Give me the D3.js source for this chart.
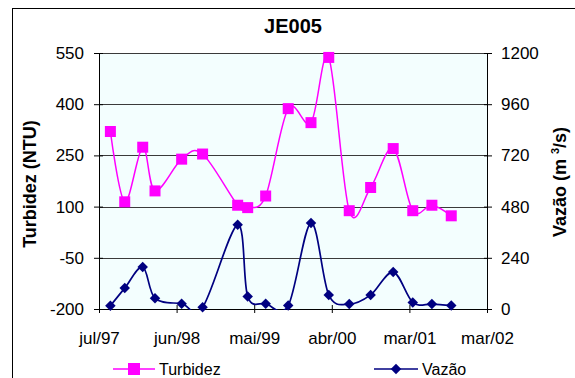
<!DOCTYPE html>
<html>
<head>
<meta charset="utf-8">
<script src="https://cdn.jsdelivr.net/npm/d3@7"></script>
<style>
  body { margin: 0; background: #fff; }
  text { font-family: "Liberation Sans", Arial, sans-serif; }
</style>
</head>
<body>
<div id="viz"></div>
<script>
// dimensions of the svg and of the plot area inside it
const width = 575
const height = 378
const margin = {left: 99, top: 53, right: 88, bottom: 69}
const g_width = width - margin.left - margin.right;
const g_height = height - margin.top - margin.bottom;

// sampling dates
const dates = ["1997-08-20", "1997-10-22", "1998-01-09", "1998-03-04", "1998-06-29", "1998-09-29",
               "1999-03-02", "1999-04-15", "1999-07-03", "1999-10-10", "2000-01-18", "2000-04-05",
               "2000-07-04", "2000-10-06", "2001-01-13", "2001-04-09", "2001-07-02", "2001-09-25"];

// turbidity (NTU), left axis
const turbidez = [320, 114, 274, 146, 239, 254, 104, 97, 131, 387, 346, 537, 88, 156, 270, 88, 104, 73];

// discharge (m3/s), right axis
const vazao = [15, 98, 197, 50, 25, 8, 395, 59, 25, 16, 403, 66, 23, 66, 173, 31, 23, 16];

// axis ticks
const xTickLabels = ["jul/97", "jun/98", "mai/99", "abr/00", "mar/01", "mar/02"];
const xDomain = ["1997-07-01", "2002-03-01"];
const yLeftTicks = [-200, -50, 100, 250, 400, 550];
const yRightTicks = [0, 240, 480, 720, 960, 1200];

const parse = d3.timeParse("%Y-%m-%d");

var svg = d3.select("#viz")
        .append("svg")
        .attr("width", width)
        .attr("height", height);

// chart border (runs off the right and bottom edges like the original)
svg.append("rect")
    .attr("x", 12.5)
    .attr("y", 8.5)
    .attr("width", 700)
    .attr("height", 500)
    .style("fill", "none")
    .style("stroke", "black");

var g = svg.append("g")
        .attr("transform", "translate(" + margin.left + "," + margin.top + ")");

// scales
const x = d3.scaleTime()
            .domain(xDomain.map(parse))
            .range([0, g_width]);

const yL = d3.scaleLinear()
            .domain([-200, 550])
            .range([g_height, 0]);

const yR = d3.scaleLinear()
            .domain([0, 1200])
            .range([g_height, 0]);

// plot area background
g.append("rect")
    .attr("width", g_width)
    .attr("height", g_height)
    .style("fill", "#f3fefe");

// horizontal gridlines
g.selectAll(".grid")
    .data(yLeftTicks.slice(1))
    .enter()
    .append("line")
    .attr("class", "grid")
    .attr("x1", 0)
    .attr("x2", g_width)
    .attr("y1", function(d) { return Math.round(yL(d)) + 0.5 })
    .attr("y2", function(d) { return Math.round(yL(d)) + 0.5 })
    .style("stroke", "#3a3a3a");

// x tick positions: equally spaced across the domain
const x0 = x.domain()[0].getTime(), x1 = x.domain()[1].getTime();
const xTicks = xTickLabels.map(function(d, i) { return new Date(x0 + (x1 - x0) * i / (xTickLabels.length - 1)) });

// axes
const xAxis = g.append("g")
    .attr("transform", "translate(0," + g_height + ")")
    .call(d3.axisBottom(x).tickValues(xTicks).tickSizeInner(4).tickSizeOuter(0).tickPadding(19)
        .tickFormat(function(d, i) { return xTickLabels[i] }));

const leftAxis = g.append("g")
    .call(d3.axisLeft(yL).tickValues(yLeftTicks).tickSizeInner(5).tickSizeOuter(0).tickPadding(10)
        .tickFormat(function(d) { return String(d) }));

const rightAxis = g.append("g")
    .attr("transform", "translate(" + g_width + ",0)")
    .call(d3.axisRight(yR).tickValues(yRightTicks).tickSizeInner(5).tickSizeOuter(0).tickPadding(9)
        .tickFormat(function(d) { return String(d) }));

// cross ticks going into the plot as well
xAxis.selectAll(".tick line").attr("y1", -4);
leftAxis.selectAll(".tick line").attr("x1", 4);
rightAxis.selectAll(".tick line").attr("x1", -3);

[xAxis, leftAxis, rightAxis].forEach(function(a) {
    a.selectAll("text").style("font-size", "17px").style("fill", "black");
    a.selectAll("line, path").style("stroke", "black");
});

// clip the smoothed lines to the plot area
g.append("clipPath")
    .attr("id", "clip")
    .append("rect")
    .attr("width", g_width)
    .attr("height", g_height + 1);

const lineL = d3.line()
    .x(function(d, i) { return x(parse(dates[i])) })
    .y(function(d) { return yL(d) })
    .curve(d3.curveCatmullRom.alpha(0));

const lineR = d3.line()
    .x(function(d, i) { return x(parse(dates[i])) })
    .y(function(d) { return yR(d) })
    .curve(d3.curveCatmullRom.alpha(0));

g.append("path")
    .datum(turbidez)
    .attr("clip-path", "url(#clip)")
    .attr("d", lineL)
    .style("fill", "none")
    .style("stroke", "#ff00ff")
    .style("stroke-width", 1.5);

g.append("path")
    .datum(vazao)
    .attr("clip-path", "url(#clip)")
    .attr("d", lineR)
    .style("fill", "none")
    .style("stroke", "#000080")
    .style("stroke-width", 1.7);

// markers
const sq = 11;
g.selectAll(".sq")
    .data(turbidez)
    .enter()
    .append("rect")
    .attr("class", "sq")
    .attr("x", function(d, i) { return x(parse(dates[i])) - sq / 2 })
    .attr("y", function(d) { return yL(d) - sq / 2 })
    .attr("width", sq)
    .attr("height", sq)
    .style("fill", "#ff00ff");

const diamond = d3.symbol().type(d3.symbolDiamond2).size(70);
g.selectAll(".dm")
    .data(vazao)
    .enter()
    .append("path")
    .attr("class", "dm")
    .attr("d", diamond)
    .attr("transform", function(d, i) { return "translate(" + x(parse(dates[i])) + "," + yR(d) + ")" })
    .style("fill", "#000080");

// title
svg.append("text")
    .attr("x", 293)
    .attr("y", 33)
    .attr("text-anchor", "middle")
    .style("font-size", "20px")
    .style("font-weight", "bold")
    .text("JE005");

// y labels
svg.append("text")
    .attr("transform", "translate(36," + 184 + ")rotate(-90)")
    .attr("text-anchor", "middle")
    .style("font-size", "18px")
    .style("font-weight", "bold")
    .text("Turbidez (NTU)");

const rl = svg.append("text")
    .attr("transform", "translate(566," + 182 + ")rotate(-90)")
    .attr("text-anchor", "middle")
    .style("font-size", "18px")
    .style("font-weight", "bold");
rl.append("tspan").text("Vazão (m ");
rl.append("tspan").attr("dy", -7).style("font-size", "11px").text("3");
rl.append("tspan").attr("dy", 7).text("/s)");

// legend
const legend = [
    {name: "Turbidez", color: "#ff00ff", shape: "square", x1: 113, x2: 155},
    {name: "Vazão", color: "#000080", shape: "diamond", x1: 374, x2: 418}
];
const ly = 369;
legend.forEach(function(l) {
    svg.append("line")
        .attr("x1", l.x1).attr("x2", l.x2)
        .attr("y1", ly).attr("y2", ly)
        .style("stroke", l.color)
        .style("stroke-width", 1.5);
    const cx = (l.x1 + l.x2) / 2;
    if (l.shape == "square") {
        svg.append("rect")
            .attr("x", cx - 6).attr("y", ly - 6)
            .attr("width", 12).attr("height", 12)
            .style("fill", l.color);
    } else {
        svg.append("path")
            .attr("d", diamond)
            .attr("transform", "translate(" + cx + "," + ly + ")")
            .style("fill", l.color);
    }
    svg.append("text")
        .attr("x", l.x2 + 4)
        .attr("y", ly + 6)
        .style("font-size", "16px")
        .text(l.name);
});
</script>
</body>
</html>
